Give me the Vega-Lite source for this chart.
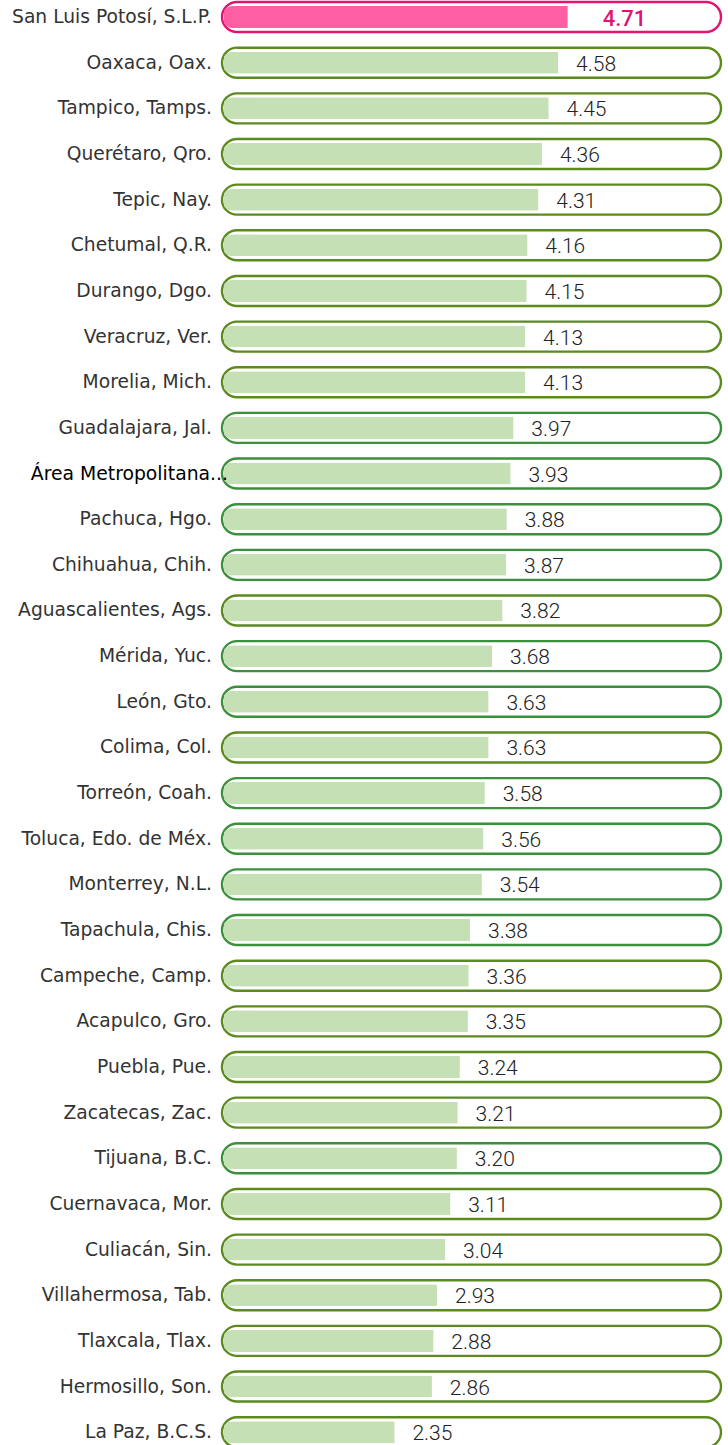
{
  "$schema": "https://vega.github.io/schema/vega-lite/v6.json",
  "width": 499,
  "height": 1445,
  "autosize": {"type": "none"},
  "padding": {"left": 222, "right": 7, "top": 0, "bottom": 0},
  "background": "white",
  "config": {"view": {"stroke": null}},
  "data": {
    "values": [
      {"ciudad": "San Luis Potosí, S.L.P.", "valor": 4.71, "grupo": "destacado"},
      {"ciudad": "Oaxaca, Oax.", "valor": 4.58, "grupo": "A"},
      {"ciudad": "Tampico, Tamps.", "valor": 4.45, "grupo": "A"},
      {"ciudad": "Querétaro, Qro.", "valor": 4.36, "grupo": "A"},
      {"ciudad": "Tepic, Nay.", "valor": 4.31, "grupo": "A"},
      {"ciudad": "Chetumal, Q.R.", "valor": 4.16, "grupo": "A"},
      {"ciudad": "Durango, Dgo.", "valor": 4.15, "grupo": "A"},
      {"ciudad": "Veracruz, Ver.", "valor": 4.13, "grupo": "A"},
      {"ciudad": "Morelia, Mich.", "valor": 4.13, "grupo": "A"},
      {"ciudad": "Guadalajara, Jal.", "valor": 3.97, "grupo": "B"},
      {"ciudad": "Área Metropolitana...", "valor": 3.93, "grupo": "B"},
      {"ciudad": "Pachuca, Hgo.", "valor": 3.88, "grupo": "B"},
      {"ciudad": "Chihuahua, Chih.", "valor": 3.87, "grupo": "B"},
      {"ciudad": "Aguascalientes, Ags.", "valor": 3.82, "grupo": "A"},
      {"ciudad": "Mérida, Yuc.", "valor": 3.68, "grupo": "B"},
      {"ciudad": "León, Gto.", "valor": 3.63, "grupo": "B"},
      {"ciudad": "Colima, Col.", "valor": 3.63, "grupo": "A"},
      {"ciudad": "Torreón, Coah.", "valor": 3.58, "grupo": "B"},
      {"ciudad": "Toluca, Edo. de Méx.", "valor": 3.56, "grupo": "B"},
      {"ciudad": "Monterrey, N.L.", "valor": 3.54, "grupo": "B"},
      {"ciudad": "Tapachula, Chis.", "valor": 3.38, "grupo": "B"},
      {"ciudad": "Campeche, Camp.", "valor": 3.36, "grupo": "A"},
      {"ciudad": "Acapulco, Gro.", "valor": 3.35, "grupo": "A"},
      {"ciudad": "Puebla, Pue.", "valor": 3.24, "grupo": "A"},
      {"ciudad": "Zacatecas, Zac.", "valor": 3.21, "grupo": "A"},
      {"ciudad": "Tijuana, B.C.", "valor": 3.20, "grupo": "B"},
      {"ciudad": "Cuernavaca, Mor.", "valor": 3.11, "grupo": "A"},
      {"ciudad": "Culiacán, Sin.", "valor": 3.04, "grupo": "A"},
      {"ciudad": "Villahermosa, Tab.", "valor": 2.93, "grupo": "A"},
      {"ciudad": "Tlaxcala, Tlax.", "valor": 2.88, "grupo": "A"},
      {"ciudad": "Hermosillo, Son.", "valor": 2.86, "grupo": "A"},
      {"ciudad": "La Paz, B.C.S.", "valor": 2.35, "grupo": "A"}
    ]
  },
  "encoding": {
    "y": {
      "field": "ciudad",
      "type": "nominal",
      "sort": null,
      "axis": null,
      "scale": {"range": [-5.8, 1455], "paddingInner": 0, "paddingOuter": 0}
    }
  },
  "layer": [
    {
      "mark": {"type": "bar", "height": 30, "cornerRadius": 15, "fill": "white", "strokeWidth": 2.4},
      "encoding": {
        "x": {"datum": 6.8, "type": "quantitative", "scale": {"domain": [0, 6.8], "nice": false}, "axis": null},
        "stroke": {
          "field": "grupo",
          "type": "nominal",
          "scale": {"domain": ["destacado", "A", "B"], "range": ["#e3136f", "#5b8a1f", "#3a903b"]},
          "legend": null
        }
      }
    },
    {
      "mark": {"type": "bar", "height": 22, "xOffset": 2, "cornerRadiusTopLeft": 11, "cornerRadiusBottomLeft": 11},
      "encoding": {
        "x": {"field": "valor", "type": "quantitative"},
        "fill": {
          "field": "grupo",
          "type": "nominal",
          "scale": {"domain": ["destacado", "A", "B"], "range": ["#ff5ea3", "#c5e0b4", "#c5e0b4"]},
          "legend": null
        }
      }
    },
    {
      "transform": [{"filter": "datum.grupo != 'destacado'"}],
      "mark": {"type": "text", "align": "left", "baseline": "middle", "dx": 18, "dy": 2, "font": "Roboto", "fontSize": 21, "fontWeight": 300, "color": "#222222"},
      "encoding": {
        "x": {"field": "valor", "type": "quantitative"},
        "text": {"field": "valor", "type": "quantitative", "format": ".2f"}
      }
    },
    {
      "transform": [{"filter": "datum.grupo == 'destacado'"}],
      "mark": {"type": "text", "align": "left", "baseline": "middle", "dx": 35, "dy": 2, "font": "Roboto", "fontSize": 22, "fontWeight": 500, "color": "#e3136f"},
      "encoding": {
        "x": {"field": "valor", "type": "quantitative"},
        "text": {"field": "valor", "type": "quantitative", "format": ".2f"}
      }
    },
    {
      "transform": [{"filter": "datum.ciudad != 'Área Metropolitana...'"}],
      "mark": {"type": "text", "align": "right", "baseline": "middle", "dx": -10, "font": "DejaVu Sans", "fontSize": 18.7, "color": "#333333"},
      "encoding": {
        "x": {"datum": 0, "type": "quantitative"},
        "text": {"field": "ciudad", "type": "nominal"}
      }
    },
    {
      "transform": [{"filter": "datum.ciudad == 'Área Metropolitana...'"}],
      "mark": {"type": "text", "align": "right", "baseline": "middle", "dx": 6, "font": "DejaVu Sans", "fontSize": 18.8, "fontWeight": 500, "color": "#000000"},
      "encoding": {
        "x": {"datum": 0, "type": "quantitative"},
        "text": {"field": "ciudad", "type": "nominal"}
      }
    }
  ]
}
